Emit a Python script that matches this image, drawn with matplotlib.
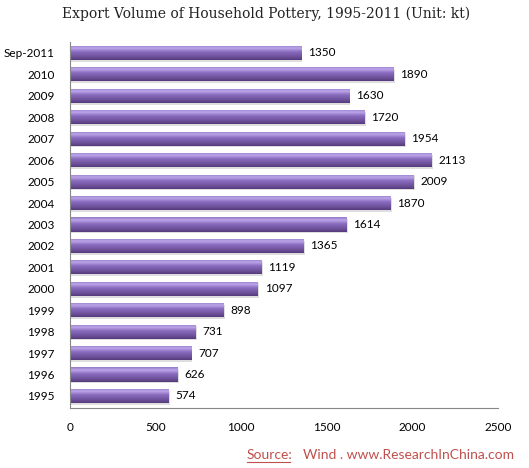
import matplotlib.pyplot as plt
import numpy as np
from matplotlib.colors import LinearSegmentedColormap
from matplotlib.lines import Line2D

years = ['1995', '1996', '1997', '1998', '1999', '2000', '2001', '2002', '2003',
         '2004', '2005', '2006', '2007', '2008', '2009', '2010', 'Sep-2011']
volume = [574, 626, 707, 731, 898, 1097, 1119, 1365, 1614,
          1870, 2009, 2113, 1954, 1720, 1630, 1890, 1350]

fig = plt.figure(figsize=(5.29, 4.68), dpi=100)
ax = fig.add_axes([70 / 529, 1 - 408 / 468, 428 / 529, 366 / 468])

# gradient for the "3D" bars (top -> bottom)
cmap = LinearSegmentedColormap.from_list('bar', [
    (0.0, '#9478c6'), (0.2, '#bca6e8'), (0.45, '#8a6cc0'),
    (0.8, '#6b4f98'), (1.0, '#553b7c')])
grad = np.linspace(0, 1, 64).reshape(-1, 1)

h = 0.66
y = np.arange(len(years))
bars = ax.barh(y, volume, height=h, color='none', edgecolor='none')
for b, v in zip(bars, volume):
    # soft shadow under each bar
    ax.barh(b.get_y() + h / 2 - 0.08, v + 8, height=h, color='#c8c8c8',
            alpha=0.6, zorder=1)
    im = ax.imshow(grad, cmap=cmap, aspect='auto', zorder=2, origin='upper',
                   extent=[0, v, b.get_y(), b.get_y() + h])
    im.set_clip_path(b)
    ax.text(v + 40, b.get_y() + h / 2, str(v), va='center', ha='left',
            fontsize=8.5, family='Lato')

ax.set_xlim(0, 2500)
ax.set_ylim(-0.56, 16.51)
ax.set_yticks(y)
ax.set_yticklabels(years, family='Lato', fontsize=8.5)
ax.set_xticks([0, 500, 1000, 1500, 2000, 2500])
ax.set_xticklabels(['0', '500', '1000', '1500', '2000', '2500'], family='Lato', fontsize=8.5)
ax.tick_params(axis='y', length=0, pad=11)
ax.tick_params(axis='x', length=0, pad=10)
for s in ['top', 'right']:
    ax.spines[s].set_visible(False)
ax.spines['left'].set_color('#888888')
ax.spines['bottom'].set_color('#888888')

fig.text(266 / 529, 1 - 14 / 468, 'Export Volume of Household Pottery, 1995-2011 (Unit: kt)',
         ha='center', va='center', fontsize=10, family='DejaVu Serif', color='#222222')

red = '#c0504d'
fig.text(247 / 529, 1 - 455 / 468, 'Source:', ha='left', va='center',
         fontsize=10, family='Lato', color=red)
fig.add_artist(Line2D([247 / 529, 290 / 529], [1 - 462 / 468, 1 - 462 / 468],
                      color=red, lw=0.8))
fig.text(303 / 529, 1 - 455 / 468, 'Wind . www.ResearchInChina.com', ha='left',
         va='center', fontsize=10, family='Lato', color=red)

fig.savefig('out.png', dpi=100)
